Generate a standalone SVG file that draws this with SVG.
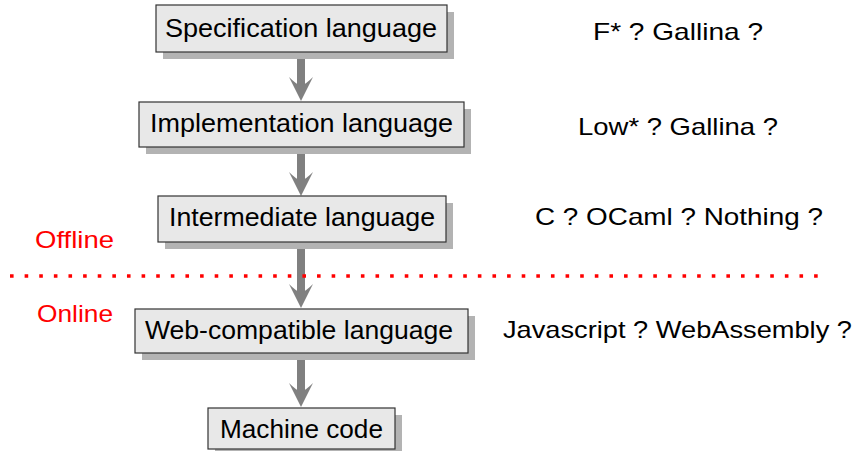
<svg xmlns="http://www.w3.org/2000/svg" width="856" height="451" viewBox="0 0 856 451">
<style>
.box{fill:#e8e8e8;stroke:#333333;stroke-width:1.2}
.shadow{fill:#b3b3b3}
.t{font-family:"Liberation Sans",Arial,sans-serif;font-size:26px;fill:#000}
.r{font-family:"Liberation Sans",Arial,sans-serif;font-size:24px;fill:#000}
.red{font-family:"Liberation Sans",Arial,sans-serif;font-size:24px;fill:#ff0000}
.shaft{stroke:#808080;stroke-width:8;fill:none}
.head{fill:#808080}
</style>
<rect width="856" height="451" fill="#ffffff"/>
<g id="connectors">
<line class="shaft" x1="301" y1="52" x2="301" y2="88"/>
<path class="head" d="M301,101 L289,77 Q296,84 301,86 Q306,84 313,77 Z"/>
<line class="shaft" x1="301" y1="147" x2="301" y2="182"/>
<path class="head" d="M301,196 L289,172 Q296,179 301,181 Q306,179 313,172 Z"/>
<line class="shaft" x1="301" y1="242" x2="301" y2="294"/>
<path class="head" d="M301,308 L289,284 Q296,291 301,293 Q306,291 313,284 Z"/>
<line class="shaft" x1="301" y1="353" x2="301" y2="394"/>
<path class="head" d="M301,407 L289,383 Q296,390 301,392 Q306,390 313,383 Z"/>
</g>
<g id="separator">
<line x1="10" y1="276" x2="819" y2="276" stroke="#ff0000" stroke-width="3.6" stroke-dasharray="3.6 11.02"/>
<text class="red" x="35" y="248" textLength="79" lengthAdjust="spacingAndGlyphs">Offline</text>
<text class="red" x="37" y="322" textLength="76" lengthAdjust="spacingAndGlyphs">Online</text>
</g>
<g id="n1">
<rect class="shadow" x="163" y="12" width="291" height="47"/>
<rect class="box" x="156" y="5" width="291" height="47"/>
<text class="t" x="165" y="37" textLength="272" lengthAdjust="spacingAndGlyphs">Specification language</text>
</g>
<g id="n2">
<rect class="shadow" x="146" y="109" width="325" height="45"/>
<rect class="box" x="139" y="102" width="325" height="45"/>
<text class="t" x="150" y="132" textLength="303" lengthAdjust="spacingAndGlyphs">Implementation language</text>
</g>
<g id="n3">
<rect class="shadow" x="165" y="203" width="288" height="46"/>
<rect class="box" x="158" y="196" width="288" height="46"/>
<text class="t" x="169" y="226" textLength="266" lengthAdjust="spacingAndGlyphs">Intermediate language</text>
</g>
<g id="n4">
<rect class="shadow" x="142" y="316" width="333" height="44"/>
<rect class="box" x="135" y="309" width="333" height="44"/>
<text class="t" x="145" y="339" textLength="308" lengthAdjust="spacingAndGlyphs">Web-compatible language</text>
</g>
<g id="n5">
<rect class="shadow" x="215" y="415" width="187" height="41"/>
<rect class="box" x="208" y="408" width="187" height="41"/>
<text class="t" x="220" y="438" textLength="163" lengthAdjust="spacingAndGlyphs">Machine code</text>
</g>
<g id="notes">
<text class="r" x="593" y="40" textLength="170" lengthAdjust="spacingAndGlyphs">F* ?  Gallina ?</text>
<text class="r" x="578" y="135" textLength="200" lengthAdjust="spacingAndGlyphs">Low* ?  Gallina ?</text>
<text class="r" x="535" y="225" textLength="288" lengthAdjust="spacingAndGlyphs">C ? OCaml ?  Nothing ?</text>
<text class="r" x="503" y="338" textLength="349" lengthAdjust="spacingAndGlyphs">Javascript ?  WebAssembly ?</text>
</g>
</svg>
